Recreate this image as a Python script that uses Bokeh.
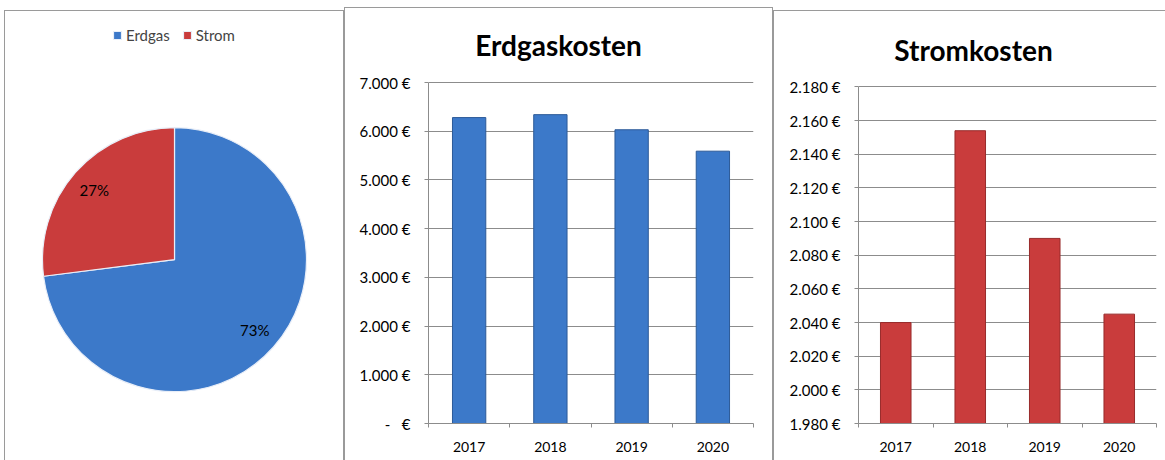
import math
from bokeh.plotting import figure
from bokeh.layouts import row
from bokeh.models import Range1d, FixedTicker, Legend, LegendItem, ColumnDataSource
from bokeh.embed import file_html
from bokeh.resources import INLINE

FONT = "Lato"

# ---------------- data ----------------
years = ["2017", "2018", "2019", "2020"]
gas_cost = [6280, 6340, 6030, 5590]
power_cost = [2040, 2154, 2090, 2045]

share_labels = ["Erdgas", "Strom"]
share_values = [73, 27]

gas_ticks = [0, 1000, 2000, 3000, 4000, 5000, 6000, 7000]
gas_tick_labels = ["-\u00a0\u00a0\u00a0€", "1.000 €", "2.000 €", "3.000 €",
                   "4.000 €", "5.000 €", "6.000 €", "7.000 €"]
power_ticks = [1980, 2000, 2020, 2040, 2060, 2080, 2100, 2120, 2140, 2160, 2180]
power_tick_labels = ["1.980 €", "2.000 €", "2.020 €", "2.040 €", "2.060 €", "2.080 €",
                     "2.100 €", "2.120 €", "2.140 €", "2.160 €", "2.180 €"]

titles = ["Erdgaskosten", "Stromkosten"]

BLUE = "#3C79C9"
BLUE_EDGE = "#2C5A98"
RED = "#C93C3C"
RED_EDGE = "#982B2B"
GRID = "#8C8C8C"
FRAME = "#9A9A9A"

# page layout (absolute pixels in the 1165x460 window)
FRAME_TOP = 12      # top of every plotting frame
FRAME_BOTTOM = 423  # bottom of every plotting frame
PAGE_H = 460


def frame_style(right=True):
    sh = "inset 1px 1px 0 0 %s" % FRAME
    if right:
        sh += ", inset -1px 0 0 0 %s" % FRAME
    return {"box-shadow": sh}


# ---------------- pie ----------------
P1_LEFT, P1_TOP, W1 = 4, 10, 340
H1 = PAGE_H - P1_TOP
FH = FRAME_BOTTOM - FRAME_TOP
p1 = figure(width=W1, height=H1, x_range=Range1d(0, W1), y_range=Range1d(0, FH),
            output_backend="svg", toolbar_location=None, title_location=None,
            x_axis_location=None, y_axis_location=None,
            min_border_left=0, min_border_right=0,
            min_border_top=FRAME_TOP - P1_TOP, min_border_bottom=PAGE_H - FRAME_BOTTOM)
p1.grid.visible = False
p1.outline_line_color = None
p1.background_fill_alpha = 0
p1.border_fill_alpha = 0
p1.styles = frame_style(True)
p1.margin = (P1_TOP, 0, 0, P1_LEFT)

# pie centre (absolute 174, 258) in frame pixels
cx, cy, R = 174 - P1_LEFT, FRAME_BOTTOM - 258, 132
total = float(sum(share_values))
starts, ends, mids = [], [], []
a = math.pi / 2
for v in share_values:
    b = a - v / total * 2 * math.pi
    starts.append(b)
    ends.append(a)
    mids.append((a + b) / 2)
    a = b

src = ColumnDataSource(dict(
    x=[cx] * len(share_values), y=[cy] * len(share_values),
    start=starts, end=ends, color=[BLUE, RED], label=share_labels,
))
wr = p1.wedge(x="x", y="y", radius=R, radius_units="screen",
              start_angle="start", end_angle="end",
              fill_color="color", line_color="#E8EEF8", line_width=1.2, source=src)

lab_r = 0.81 * R
tx = [cx + lab_r * math.cos(m) for m in mids]
ty = [cy + lab_r * math.sin(m) for m in mids]
pct = ["%d%%" % round(v / total * 100) for v in share_values]
p1.text(x=tx, y=ty, text=pct, text_align="center", text_baseline="middle",
        text_font={"value": FONT}, text_font_size="15px", text_color="#000000")

legend = Legend(items=[LegendItem(label=share_labels[i], renderers=[wr], index=i)
                       for i in range(len(share_labels))],
                orientation="horizontal", location=(112 - P1_LEFT, FRAME_BOTTOM - 44),
                glyph_width=10, glyph_height=10, label_height=16,
                label_text_font=FONT, label_text_font_size="15px",
                label_standoff=4, spacing=12, padding=0, margin=0,
                background_fill_alpha=0, border_line_alpha=0)
p1.add_layout(legend, "center")


# ---------------- bar charts ----------------
def bar_chart(fig_left, fig_top, width, title, values, ticks, tick_labels, color, edge,
              frame_left, frame_right, top_tick_px, title_px, right_frame):
    n = len(years)
    xs = [i + 1 for i in range(n)]
    # y range extended above the top tick so that the top tick sits at top_tick_px
    units_per_px = (ticks[-1] - ticks[0]) / float(FRAME_BOTTOM - top_tick_px)
    y_hi = ticks[-1] + (top_tick_px - FRAME_TOP) * units_per_px
    p = figure(width=width, height=PAGE_H - fig_top,
               x_range=Range1d(0.5, n + 0.5), y_range=Range1d(ticks[0], y_hi),
               output_backend="svg", toolbar_location=None, title_location=None,
               min_border_left=frame_left - fig_left,
               min_border_right=fig_left + width - frame_right,
               min_border_top=FRAME_TOP - fig_top,
               min_border_bottom=PAGE_H - FRAME_BOTTOM)
    p.outline_line_color = None
    p.background_fill_alpha = 0
    p.border_fill_alpha = 0
    p.styles = frame_style(right_frame)
    p.margin = (fig_top, 0, 0, 0)

    p.xgrid.visible = False
    p.ygrid.grid_line_color = GRID
    p.ygrid.grid_line_width = 1

    ya = p.yaxis[0]
    ya.ticker = FixedTicker(ticks=ticks, minor_ticks=[])
    ya.bounds = (ticks[0], ticks[-1])
    ya.major_label_overrides = {t: l for t, l in zip(ticks, tick_labels)}
    ya.axis_line_color = GRID
    ya.major_tick_line_color = GRID
    ya.major_tick_out = 4
    ya.major_tick_in = 0
    ya.minor_tick_line_color = None
    ya.major_label_standoff = 14
    ya.major_label_text_font = FONT
    ya.major_label_text_font_size = "15px"
    ya.major_label_text_color = "#000000"

    xa = p.xaxis[0]
    xa.ticker = FixedTicker(ticks=xs, minor_ticks=[i + 0.5 for i in range(n + 1)])
    xa.major_label_overrides = {x: y for x, y in zip(xs, years)}
    xa.axis_line_color = GRID
    xa.major_tick_line_color = None
    xa.major_tick_out = 0
    xa.major_tick_in = 0
    xa.minor_tick_line_color = GRID
    xa.minor_tick_out = 4
    xa.minor_tick_in = 0
    xa.major_label_standoff = 14
    xa.major_label_text_font = FONT
    xa.major_label_text_font_size = "14px"
    xa.major_label_text_color = "#000000"

    p.vbar(x=xs, top=values, bottom=ticks[0], width=0.41,
           fill_color=color, line_color=edge, line_width=1)

    # chart title, placed inside the (extended) frame
    tx_px, ty_px = title_px
    t_x = 0.5 + (tx_px - frame_left) / float(frame_right - frame_left) * n
    t_y = ticks[0] + (FRAME_BOTTOM - ty_px) * units_per_px
    p.text(x=[t_x], y=[t_y], text=[title], text_align="center", text_baseline="middle",
           text_font={"value": FONT}, text_font_style="bold", text_font_size="28px",
           text_color="#000000")
    return p


p2 = bar_chart(344, 7, 429, titles[0], gas_cost, gas_ticks, gas_tick_labels, BLUE, BLUE_EDGE,
               frame_left=428, frame_right=753, top_tick_px=82, title_px=(558, 44),
               right_frame=True)
p3 = bar_chart(773, 10, 392, titles[1], power_cost, power_ticks, power_tick_labels, RED, RED_EDGE,
               frame_left=858, frame_right=1156, top_tick_px=84, title_px=(973, 47),
               right_frame=False)

layout = row(p1, p2, p3, spacing=0)
open("out.html", "w").write(file_html(layout, INLINE))
